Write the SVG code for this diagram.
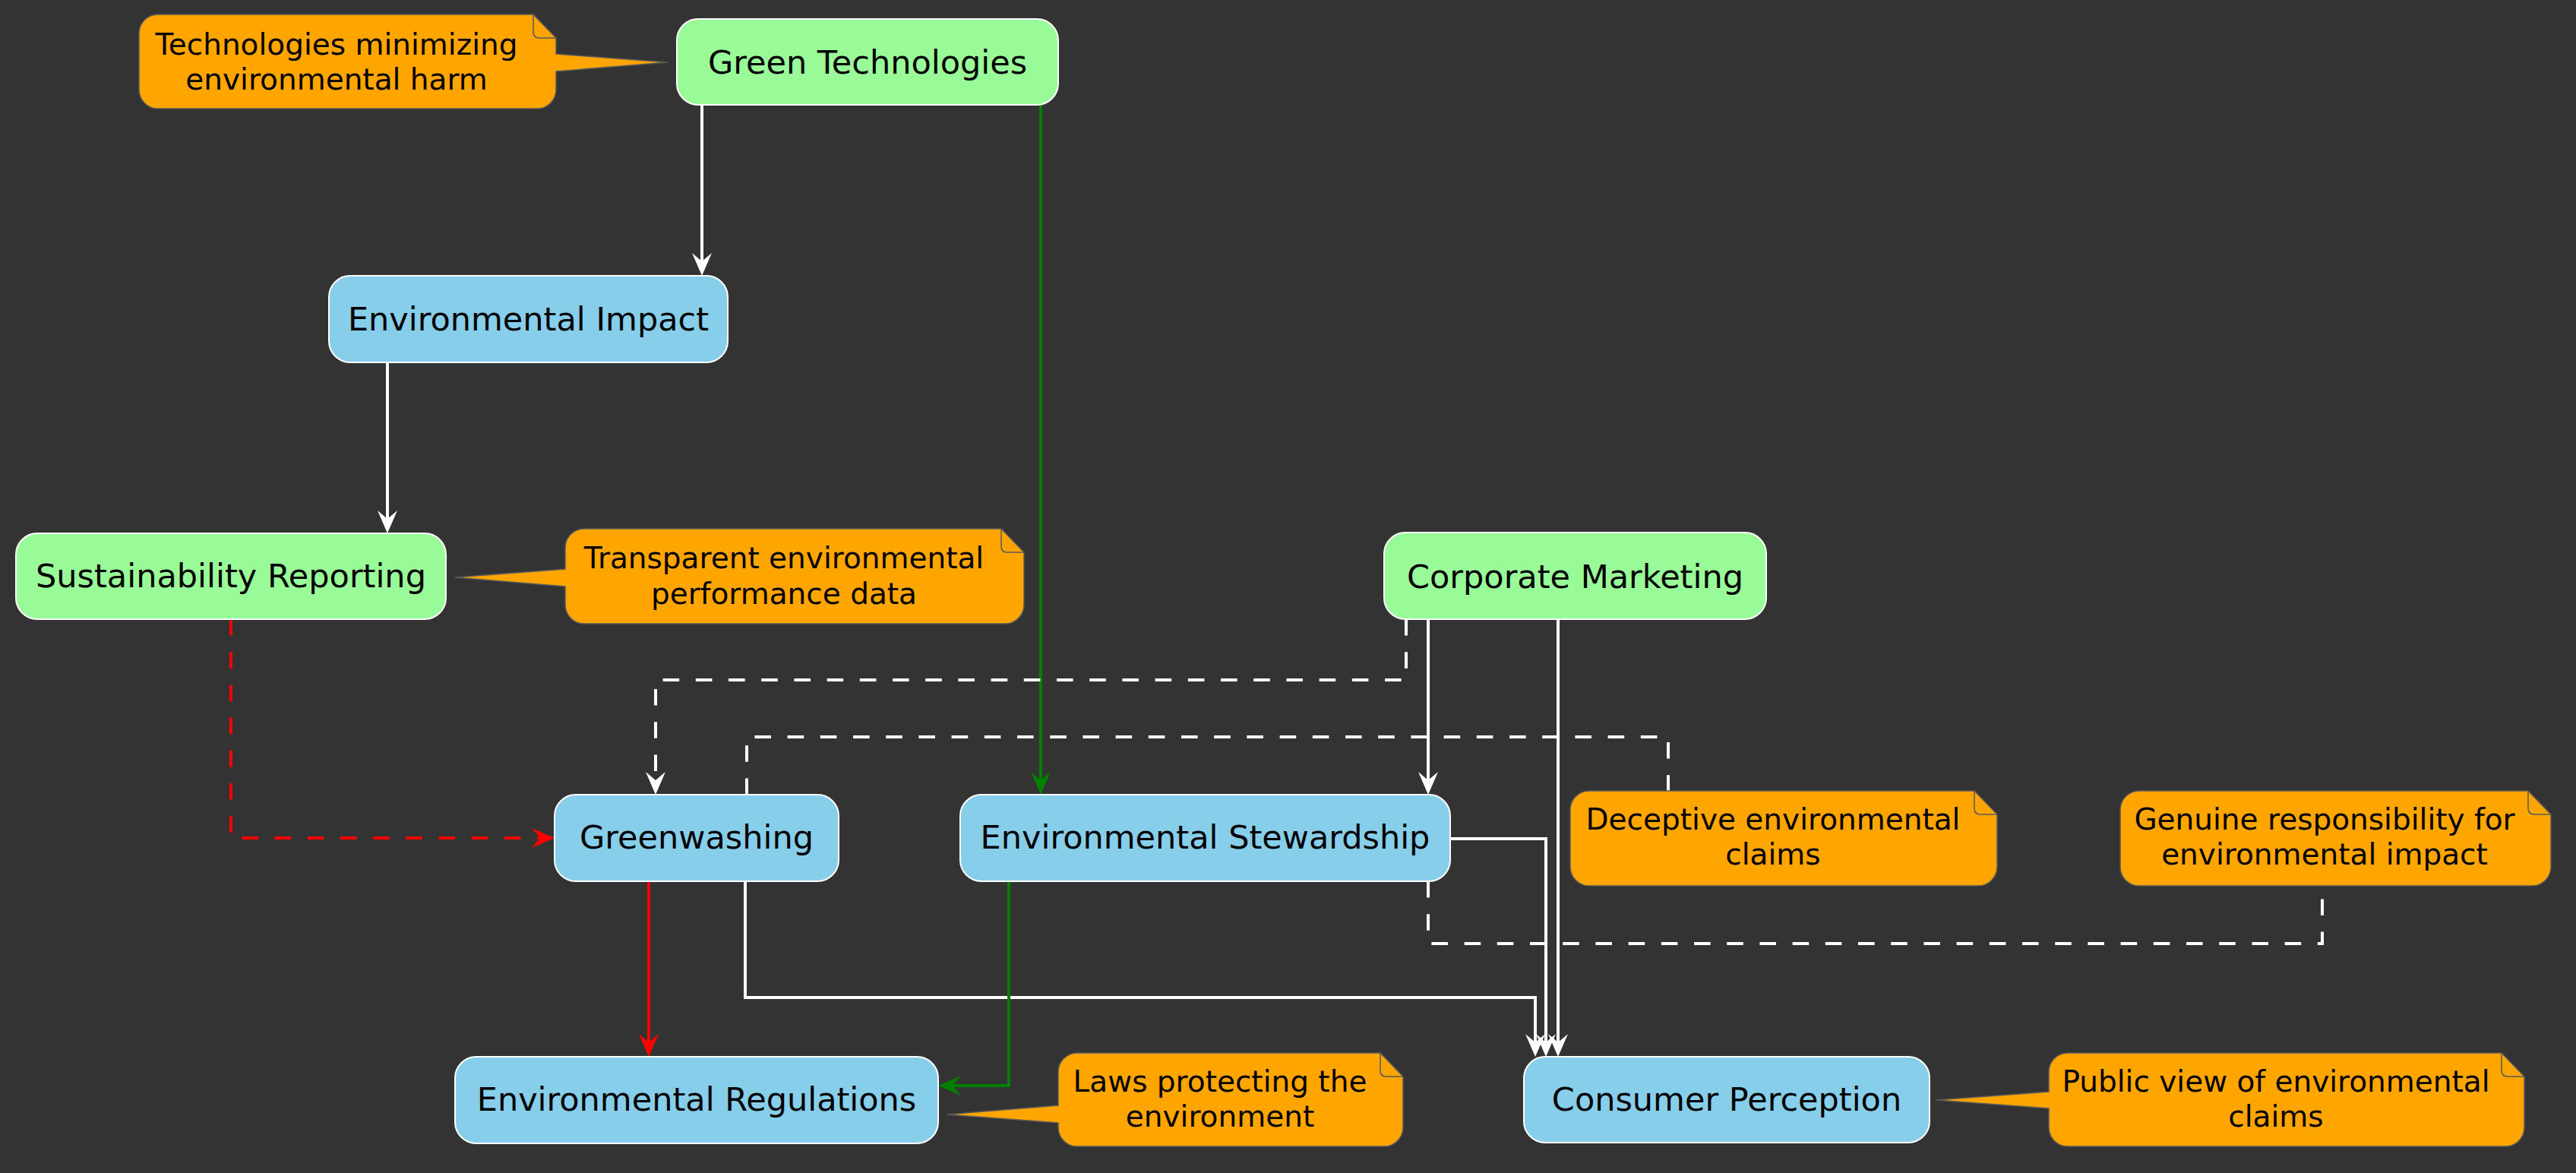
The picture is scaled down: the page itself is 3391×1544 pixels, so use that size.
<svg xmlns="http://www.w3.org/2000/svg" width="3391" height="1544" viewBox="0 0 3391 1544">
<style>
.node rect{stroke:#ffffff;stroke-width:2}
.g rect{fill:#98FB98}
.b rect{fill:#87CEEB}
.node text{font-family:"DejaVu Sans",Verdana,sans-serif;font-size:43px;fill:#000;text-anchor:middle}
.note path.body{fill:#FFA500;stroke:#5a5a5a;stroke-width:1.5}
.note path.fold{fill:none;stroke:#5a5a5a;stroke-width:1.5}
.note text{font-family:"DejaVu Sans",Verdana,sans-serif;font-size:39px;fill:#000;text-anchor:middle}
.c{fill:none;stroke-width:4}
.w{stroke:#ffffff}
.gr{stroke:#008000}
.r{stroke:#FF0000}
.d{stroke-dasharray:21.6 21.6}
</style>
<defs>
<marker id="aw" markerUnits="userSpaceOnUse" viewBox="0 0 30 30" markerWidth="30" markerHeight="30" refX="18" refY="15" orient="auto"><path d="M0,2 L30,15 L0,28 L11,15 Z" fill="#ffffff"/></marker>
<marker id="ag" markerUnits="userSpaceOnUse" viewBox="0 0 30 30" markerWidth="30" markerHeight="30" refX="18" refY="15" orient="auto"><path d="M0,2 L30,15 L0,28 L11,15 Z" fill="#008000"/></marker>
<marker id="ar" markerUnits="userSpaceOnUse" viewBox="0 0 30 30" markerWidth="30" markerHeight="30" refX="18" refY="15" orient="auto"><path d="M0,2 L30,15 L0,28 L11,15 Z" fill="#FF0000"/></marker>
</defs>
<rect x="0" y="0" width="3391" height="1544" fill="#333333"/>

<g id="connectors">
<path class="c w" d="M924,138 L924,351" marker-end="url(#aw)"/>
<path class="c gr" d="M1370,138 L1370,1034" marker-end="url(#ag)"/>
<path class="c w" d="M510,477 L510,690" marker-end="url(#aw)"/>
<path class="c r d" d="M304,815 L304,1103 L718,1103" marker-end="url(#ar)"/>
<path class="c w d" d="M1851,815 L1851,895 L863,895 L863,1034" marker-end="url(#aw)"/>
<path class="c w" d="M1880,815 L1880,1034" marker-end="url(#aw)"/>
<path class="c w" d="M2051,815 L2051,1379" marker-end="url(#aw)"/>
<path class="c w" d="M1909,1104 L2035,1104 L2035,1379" marker-end="url(#aw)"/>
<path class="c w" d="M981,1160 L981,1313 L2021,1313 L2021,1379" marker-end="url(#aw)"/>
<path class="c r" d="M854,1160 L854,1379" marker-end="url(#ar)"/>
<path class="c gr" d="M1328,1160 L1328,1429 L1247,1429" marker-end="url(#ag)"/>
<path class="c w d" d="M983,1046 L983,970 L2196,970 L2196,1041"/>
<path class="c w d" d="M1880,1160 L1880,1242 L3057,1242 L3057,1166"/>
</g>

<g id="green-technologies" class="node g"><rect x="891" y="25" width="502" height="113" rx="28"/><text x="1142" y="97">Green Technologies</text></g>
<g id="environmental-impact" class="node b"><rect x="433" y="363" width="525" height="114" rx="28"/><text x="695.5" y="435">Environmental Impact</text></g>
<g id="sustainability-reporting" class="node g"><rect x="21" y="702" width="566" height="113" rx="28"/><text x="304" y="773">Sustainability Reporting</text></g>
<g id="corporate-marketing" class="node g"><rect x="1822" y="701" width="503" height="114" rx="28"/><text x="2073.5" y="774">Corporate Marketing</text></g>
<g id="greenwashing" class="node b"><rect x="730" y="1046" width="374" height="114" rx="28"/><text x="917" y="1117">Greenwashing</text></g>
<g id="environmental-stewardship" class="node b"><rect x="1264" y="1046" width="645" height="114" rx="28"/><text x="1586.5" y="1117">Environmental Stewardship</text></g>
<g id="environmental-regulations" class="node b"><rect x="599" y="1391" width="636" height="114" rx="28"/><text x="917" y="1462">Environmental Regulations</text></g>
<g id="consumer-perception" class="node b"><rect x="2006" y="1391" width="534" height="113" rx="28"/><text x="2273" y="1462">Consumer Perception</text></g>

<g id="note-green-technologies" class="note">
<path class="body" d="M208,19 L702,19 L732,50 L732,71 L879,82 L732,94 L732,118 A25,25 0 0 1 707,143 L208,143 A25,25 0 0 1 183,118 L183,44 A25,25 0 0 1 208,19 Z"/>
<path class="fold" d="M702,19 L702,42 Q702,50 710,50 L732,50"/>
<text x="443" y="72">Technologies minimizing</text><text x="443" y="118">environmental harm</text>
</g>
<g id="note-sustainability-reporting" class="note">
<path class="body" d="M769,696 L1318,696 L1348,727 L1348,796 A25,25 0 0 1 1323,821 L769,821 A25,25 0 0 1 744,796 L744,772 L599,760 L744,749 L744,721 A25,25 0 0 1 769,696 Z"/>
<path class="fold" d="M1318,696 L1318,719 Q1318,727 1326,727 L1348,727"/>
<text x="1032" y="748">Transparent environmental</text><text x="1032" y="795">performance data</text>
</g>
<g id="note-greenwashing" class="note">
<path class="body" d="M2092,1041 L2599,1041 L2629,1072 L2629,1141 A25,25 0 0 1 2604,1166 L2092,1166 A25,25 0 0 1 2067,1141 L2067,1066 A25,25 0 0 1 2092,1041 Z"/>
<path class="fold" d="M2599,1041 L2599,1064 Q2599,1072 2607,1072 L2629,1072"/>
<text x="2334" y="1092">Deceptive environmental</text><text x="2334" y="1138">claims</text>
</g>
<g id="note-environmental-stewardship" class="note">
<path class="body" d="M2816,1041 L3328,1041 L3358,1072 L3358,1141 A25,25 0 0 1 3333,1166 L2816,1166 A25,25 0 0 1 2791,1141 L2791,1066 A25,25 0 0 1 2816,1041 Z"/>
<path class="fold" d="M3328,1041 L3328,1064 Q3328,1072 3336,1072 L3358,1072"/>
<text x="3060" y="1092">Genuine responsibility for</text><text x="3060" y="1138">environmental impact</text>
</g>
<g id="note-environmental-regulations" class="note">
<path class="body" d="M1418,1386 L1817,1386 L1847,1417 L1847,1484 A25,25 0 0 1 1822,1509 L1418,1509 A25,25 0 0 1 1393,1484 L1393,1478 L1246,1467 L1393,1455 L1393,1411 A25,25 0 0 1 1418,1386 Z"/>
<path class="fold" d="M1817,1386 L1817,1409 Q1817,1417 1825,1417 L1847,1417"/>
<text x="1606" y="1437">Laws protecting the</text><text x="1606" y="1483">environment</text>
</g>
<g id="note-consumer-perception" class="note">
<path class="body" d="M2722,1386 L3293,1386 L3323,1417 L3323,1484 A25,25 0 0 1 3298,1509 L2722,1509 A25,25 0 0 1 2697,1484 L2697,1459 L2549,1448 L2697,1437 L2697,1411 A25,25 0 0 1 2722,1386 Z"/>
<path class="fold" d="M3293,1386 L3293,1409 Q3293,1417 3301,1417 L3323,1417"/>
<text x="2996" y="1437">Public view of environmental</text><text x="2996" y="1483">claims</text>
</g>
</svg>
